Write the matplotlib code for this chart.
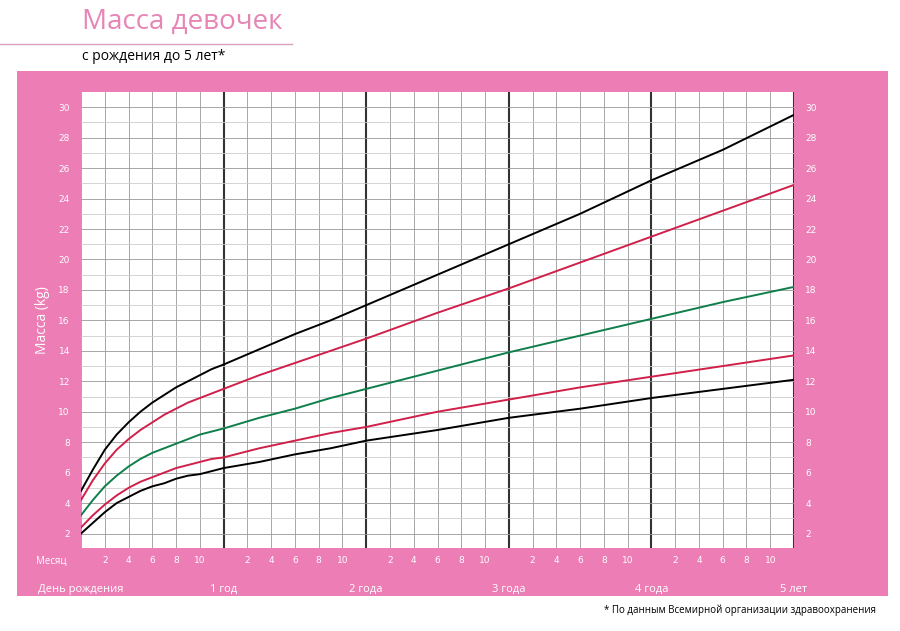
import matplotlib
matplotlib.use("Agg")
import matplotlib.pyplot as plt
from matplotlib.lines import Line2D

months = [0,1,2,3,4,5,6,7,8,9,10,11,12,15,18,21,24,30,36,42,48,54,60]
sd_m3 = [2.0,2.7,3.4,4.0,4.4,4.8,5.1,5.3,5.6,5.8,5.9,6.1,6.3,6.7,7.2,7.6,8.1,8.8,9.6,10.2,10.9,11.5,12.1]
sd_m2 = [2.4,3.2,3.9,4.5,5.0,5.4,5.7,6.0,6.3,6.5,6.7,6.9,7.0,7.6,8.1,8.6,9.0,10.0,10.8,11.6,12.3,13.0,13.7]
median = [3.2,4.2,5.1,5.8,6.4,6.9,7.3,7.6,7.9,8.2,8.5,8.7,8.9,9.6,10.2,10.9,11.5,12.7,13.9,15.0,16.1,17.2,18.2]
sd_p2 = [4.2,5.5,6.6,7.5,8.2,8.8,9.3,9.8,10.2,10.6,10.9,11.2,11.5,12.4,13.2,14.0,14.8,16.5,18.1,19.8,21.5,23.2,24.9]
sd_p3 = [4.8,6.2,7.5,8.5,9.3,10.0,10.6,11.1,11.6,12.0,12.4,12.8,13.1,14.1,15.1,16.0,17.0,19.0,21.0,23.0,25.2,27.2,29.5]
year_labels = ["День рождения", "1 год", "2 года", "3 года", "4 года", "5 лет"]
year_pos = [0, 12, 24, 36, 48, 60]
yticks = list(range(2, 31, 2))

PINK = "#EC7DB5"
fig = plt.figure(figsize=(9, 6.31), dpi=100)
bg = fig.add_axes([17/900, 1-596/631, (888-17)/900, (596-71)/631], zorder=0)
bg.set_facecolor(PINK)
bg.set_xticks([]); bg.set_yticks([])
for s in bg.spines.values():
    s.set_visible(False)

fig.text(82/900, 1-22/631, "Масса девочек", color="#E685B6", fontsize=20, va="center", family="Open Sans")
fig.add_artist(Line2D([0, 292/900], [1-44/631, 1-44/631], color="#D9A0BD", lw=1))
fig.text(82/900, 1-57/631, "с рождения до 5 лет*", fontsize=10, va="center", family="Open Sans")
fig.text(876/900, 1-610/631, "* По данным Всемирной организации здравоохранения", fontsize=7,
         ha="right", va="center", family="Open Sans")

ax = fig.add_axes([81/900, 1-548/631, (794-81)/900, (548-92)/631], zorder=2)
ax.set_facecolor("white")
ax.set_xlim(0, 60)
ax.set_ylim(1.05, 31)
for m in range(0, 61, 2):
    if m % 12 == 0 and 0 < m:
        ax.axvline(m, color="#333333", lw=1.5, zorder=1)
    else:
        ax.axvline(m, color="#999999", lw=0.6, zorder=1)
for k in range(2, 31):
    ax.axhline(k, color="#999999" if k % 2 == 0 else "#cccccc", lw=0.6, zorder=1)

for vals, c in [(sd_m3, "black"), (sd_m2, "#D0204A"), (median, "#0E7F4A"),
                (sd_p2, "#D0204A"), (sd_p3, "black")]:
    ax.plot(months, vals, color=c, lw=1.4, zorder=3)

for s in ax.spines.values():
    s.set_visible(False)
ax.tick_params(length=0, colors="white", labelsize=6.5)
ax.set_yticks(yticks)
ax.tick_params(axis="y", labelright=True, pad=8)
mt = [m for m in range(2, 60, 2) if m % 12 != 0]
ax.set_xticks(mt)
ax.set_xticklabels([str(m % 12) for m in mt], fontsize=6.5, color="white")
ax.tick_params(axis="x", pad=6)
for p, l in zip(year_pos, year_labels):
    ax.text(p, -0.09, l, transform=ax.get_xaxis_transform(), ha="center", va="center",
            color="white", fontsize=8, family="Open Sans")
ax.text(-0.02, -0.03, "Месяц", transform=ax.transAxes, ha="right", va="center",
        color="white", fontsize=7, family="Open Sans")
ax.text(0.5, -0.125, "Возраст (полных месяцев и лет)", transform=ax.transAxes, ha="center",
        va="center", color="white", fontsize=10, family="Open Sans")
ax.set_ylabel("Масса (kg)", color="white", fontsize=10, family="Open Sans", labelpad=6)

fig.savefig("out.png", dpi=100)
